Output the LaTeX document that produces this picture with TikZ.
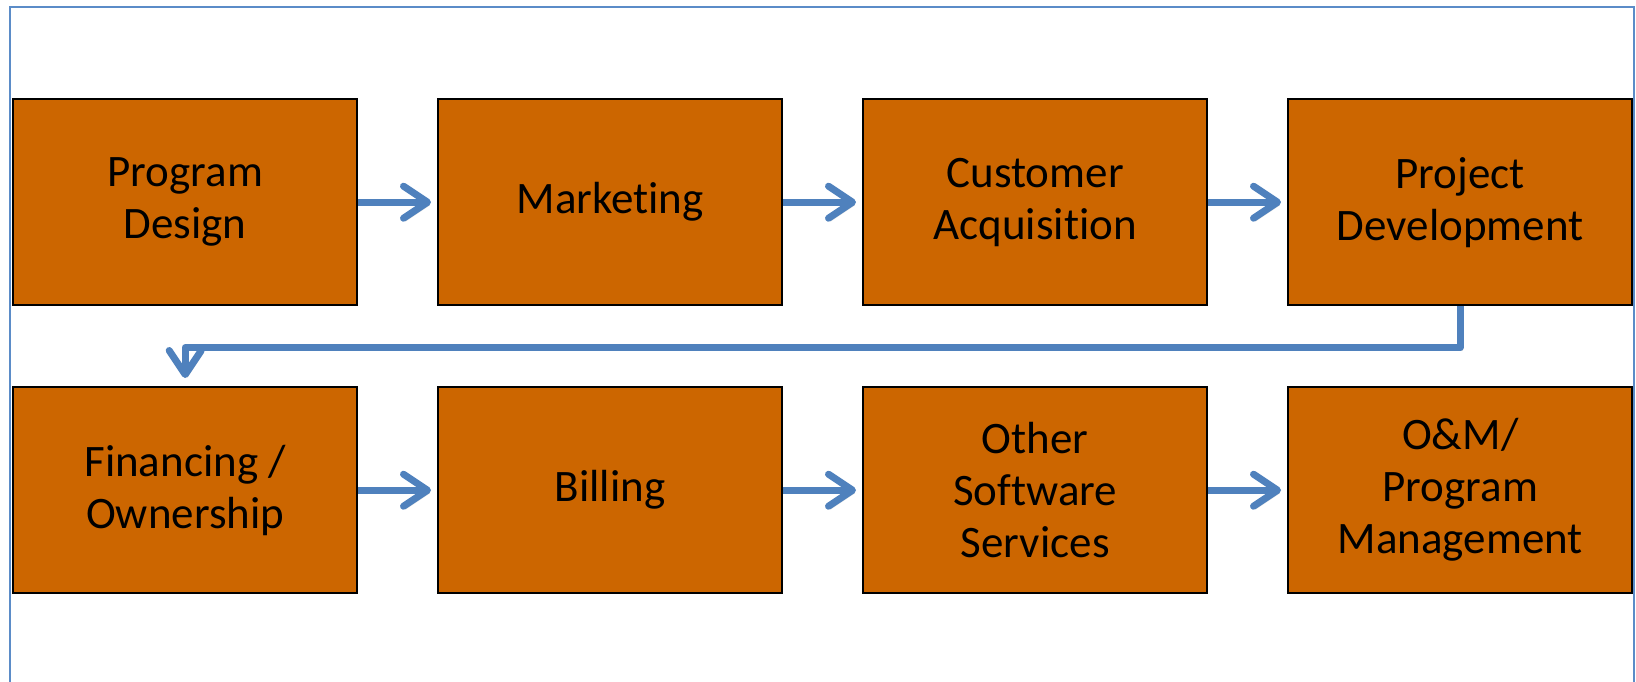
\documentclass[tikz,border=0pt]{standalone}
\usepackage{fontspec}
\setmainfont{Carlito}[Ligatures={NoCommon,NoContextual}]
\usetikzlibrary{positioning,arrows.meta}
\definecolor{rust}{HTML}{CC6600}
\definecolor{steel}{HTML}{4F81BD}
\definecolor{frameblue}{HTML}{5B8CC8}
\tikzset{
  stage/.style={draw=black,line width=1.2pt,fill=rust,minimum width=172pt,minimum height=103pt,inner sep=0pt,align=center,font=\fontsize{22.5}{26}\selectfont},
  flow/.style={-{Straight Barb[length=12pt,width=16pt,round]},draw=steel,line width=3.5pt,line join=round,shorten >=3pt,
    preaction={draw=black!30,opacity=.35,transform canvas={shift={(1pt,-1.5pt)}}}},
  outline/.style={draw=frameblue,line width=.85pt}}

\begin{document}
\begin{tikzpicture}[node distance=39.8pt and 39.3pt]
  \useasboundingbox (0,0) rectangle (818pt,-340.5pt);
  \draw[outline] (5pt,-345pt) |- (817pt,-3.5pt) -- (817pt,-345pt);
  % first row
  \node[stage,anchor=north west] (prog) at (6pt,-49pt) {Program\\Design};
  \node[stage,right=of prog] (mkt) {Marketing};
  \node[stage,right=of mkt] (cust) {Customer\\Acquisition};
  \node[stage,right=of cust] (proj) {Project\\Development};
  % second row
  \node[stage,below=of prog] (fin) {Financing /\\Ownership};
  \node[stage,right=of fin] (bill) {Billing};
  \node[stage,right=of bill] (soft) {Other\\Software\\Services};
  \node[stage,right=of soft] (om) {O\&M/\\Program\\Management};
  \draw[flow] (prog) -- (mkt); \draw[flow] (mkt) -- (cust); \draw[flow] (cust) -- (proj);
  \draw[flow,shorten >=4pt] (proj.south) -- ++(0,-20.5pt) -| (fin.north);
  \draw[flow] (fin) -- (bill); \draw[flow] (bill) -- (soft); \draw[flow] (soft) -- (om);
\end{tikzpicture}
\end{document}
